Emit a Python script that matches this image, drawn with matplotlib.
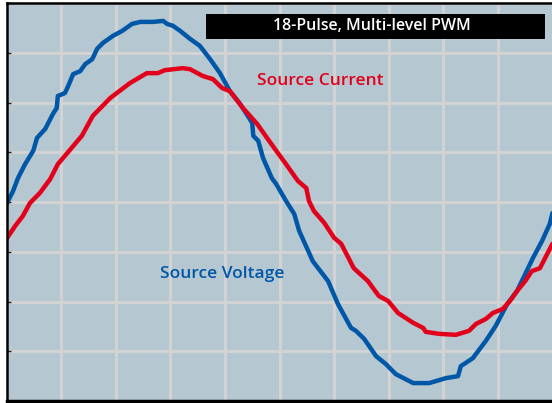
import matplotlib
matplotlib.use("Agg")
import matplotlib.pyplot as plt
from matplotlib.patches import Rectangle

# scope trace, in grid divisions (10 across, 8 high)
volt_x = [0.00, 0.12, 0.21, 0.34, 0.49, 0.56, 0.71, 0.85, 0.92, 0.94, 1.07, 1.13, 1.22,
          1.35, 1.44, 1.57, 1.66, 1.77, 1.95, 2.12, 2.30, 2.45, 2.68, 2.87, 2.94, 3.05,
          3.18, 3.36, 3.54, 3.73, 3.91, 4.09, 4.28, 4.50, 4.52, 4.61, 4.70, 4.86, 4.94,
          5.12, 5.27, 5.36, 5.61, 5.89, 6.07, 6.31, 6.40, 6.55, 6.77, 6.95, 7.13, 7.45,
          7.74, 8.05, 8.27, 8.32, 8.54, 8.78, 8.96, 9.17, 9.35, 9.50, 9.64, 9.81, 9.95, 10.0]
volt_y = [-0.04, 0.22, 0.48, 0.76, 1.03, 1.29, 1.47, 1.77, 1.89, 2.13, 2.19, 2.33, 2.57,
          2.63, 2.77, 2.87, 3.08, 3.20, 3.34, 3.44, 3.58, 3.62, 3.62, 3.64, 3.58, 3.54,
          3.44, 3.28, 3.14, 2.87, 2.59, 2.23, 1.97, 1.59, 1.33, 1.23, 0.88, 0.48, 0.36,
          0.02, -0.24, -0.58, -1.19, -1.59, -2.05, -2.53, -2.59, -2.75, -3.10, -3.26, -3.46, -3.64,
          -3.64, -3.54, -3.50, -3.30, -3.14, -2.79, -2.49, -2.05, -1.79, -1.45, -1.13, -0.78, -0.44, -0.22]

curr_x = [0.00, 0.16, 0.30, 0.43, 0.61, 0.80, 0.94, 1.11, 1.38, 1.58, 1.90, 2.26, 2.57,
          2.77, 2.90, 3.23, 3.36, 3.60, 3.78, 3.95, 4.09, 4.33, 4.59, 4.77, 4.94, 5.12,
          5.34, 5.49, 5.54, 5.63, 5.82, 6.00, 6.13, 6.36, 6.62, 6.82, 6.99, 7.17, 7.45,
          7.63, 7.68, 7.92, 8.23, 8.47, 8.60, 8.78, 8.91, 9.09, 9.22, 9.35, 9.50, 9.62,
          9.77, 9.90, 10.0]
curr_y = [-0.74, -0.48, -0.28, -0.02, 0.18, 0.46, 0.76, 0.98, 1.33, 1.73, 2.09, 2.39, 2.59,
          2.59, 2.65, 2.69, 2.67, 2.53, 2.47, 2.29, 2.23, 1.89, 1.57, 1.29, 1.03, 0.76,
          0.42, 0.28, 0.02, -0.18, -0.42, -0.72, -0.84, -1.33, -1.59, -1.89, -1.99, -2.23, -2.43,
          -2.53, -2.61, -2.65, -2.67, -2.59, -2.45, -2.35, -2.23, -2.15, -1.99, -1.79, -1.59, -1.39,
          -1.33, -1.05, -0.84]

title = "18-Pulse, Multi-level PWM"
FONT = "Open Sans"
BLUE = "#0057a8"
RED = "#e2001a"

fig = plt.figure(figsize=(5.52, 4.03), dpi=100)
fig.patch.set_facecolor("white")
ax = fig.add_axes([6.5/552, 2/403, 546/552, 398/403])
ax.set_facecolor("#b5c7d1")
ax.set_xlim(0, 10)
ax.set_ylim(-4, 4)
ax.set_xticks(range(0, 11))
ax.set_yticks(range(-4, 5))
ax.grid(True, color="#d3d3d3", linewidth=2.2)
ax.set_axisbelow(True)
ax.tick_params(axis="x", length=0, labelbottom=False)
ax.tick_params(axis="y", direction="in", length=3, width=1, color="#222222", labelleft=False)
ax.spines["right"].set_visible(False)
ax.spines["left"].set_linewidth(1.8)
ax.spines["top"].set_linewidth(1.8)
ax.spines["bottom"].set_linewidth(2.5)

ax.plot(volt_x, volt_y, color=BLUE, linewidth=3.2, solid_capstyle="round", solid_joinstyle="round")
ax.plot(curr_x, curr_y, color=RED, linewidth=3.2, solid_capstyle="round", solid_joinstyle="round")

ax.text(4.59, 2.43, "Source Current", color=RED, fontsize=12.5, family=FONT,
        weight="semibold", ha="left", va="center")
ax.text(2.81, -1.45, "Source Voltage", color=BLUE, fontsize=12.5, family=FONT,
        weight="semibold", ha="left", va="center")

ax.add_patch(Rectangle((3.65, 3.28), 6.21, 0.50, facecolor="black", edgecolor="none", zorder=5))
ax.text(6.70, 3.535, title, color="white", fontsize=11.5, family=FONT,
        weight="semibold", ha="center", va="center", zorder=6)

fig.savefig("out.png", dpi=100)
